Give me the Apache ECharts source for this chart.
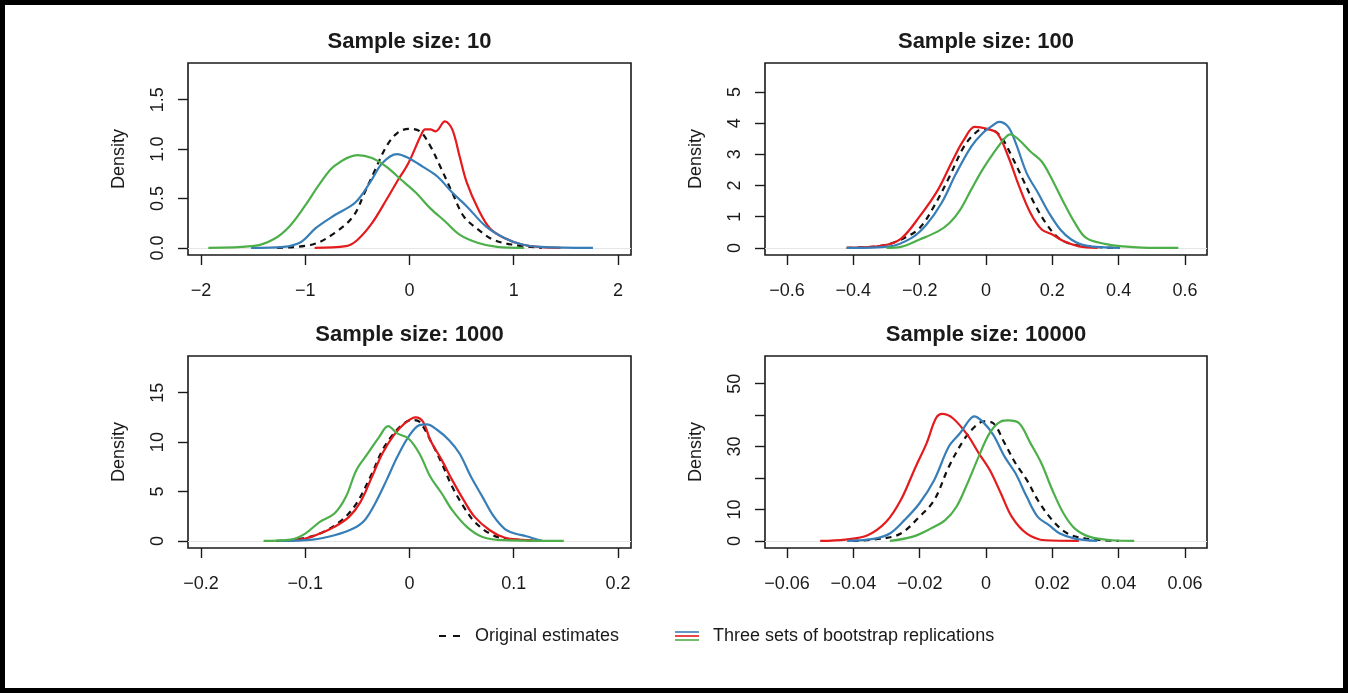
<!DOCTYPE html>
<html><head><meta charset="utf-8">
<script src="https://cdn.jsdelivr.net/npm/echarts@6/dist/echarts.min.js"></script>
<style>html,body{margin:0;padding:0;background:#fff}#c{width:1348px;height:693px}</style>
</head><body><div id="c"></div>
<script>
// ---------- data ----------
const panelTitles = ['Sample size: 10', 'Sample size: 100', 'Sample size: 1000', 'Sample size: 10000'];
const legendLabels = ['Original estimates', 'Three sets of bootstrap replications'];

const xTicks10 = [-2, -1, 0, 1, 2];
const xTicks100 = [-0.6, -0.4, -0.2, 0, 0.2, 0.4, 0.6];
const xTicks1000 = [-0.2, -0.1, 0, 0.1, 0.2];
const xTicks10000 = [-0.06, -0.04, -0.02, 0, 0.02, 0.04, 0.06];
const yTicks10 = [0, 0.5, 1, 1.5];
const yTicks100 = [0, 1, 2, 3, 4, 5];
const yTicks1000 = [0, 5, 10, 15];
const yTicks10000 = [0, 10, 20, 30, 40, 50];
const yLabels10000 = [0, 10, 30, 50];

const original10 = [[-1.27,0],[-0.93,0.034],[-0.72,0.15],[-0.54,0.32],[-0.43,0.56],[-0.33,0.79],[-0.22,1.03],[-0.12,1.16],[-0.01,1.205],[0.1,1.18],[0.2,1.03],[0.31,0.79],[0.41,0.56],[0.52,0.32],[0.66,0.185],[0.8,0.084],[0.98,0.034],[1.27,0]];
const red10 = [[-0.91,0],[-0.61,0.017],[-0.5,0.08],[-0.36,0.25],[-0.22,0.49],[-0.12,0.67],[-0.01,0.86],[0.11,1.14],[0.15,1.2],[0.2,1.2],[0.25,1.18],[0.34,1.28],[0.41,1.2],[0.48,0.93],[0.55,0.66],[0.66,0.39],[0.77,0.2],[0.91,0.1],[1.08,0.034],[1.26,0.007],[1.45,0]];
const blue10 = [[-1.52,0],[-1.21,0.01],[-1.04,0.06],[-0.9,0.2],[-0.72,0.33],[-0.52,0.46],[-0.38,0.66],[-0.26,0.86],[-0.12,0.95],[-0.01,0.91],[0.13,0.82],[0.27,0.72],[0.41,0.56],[0.55,0.42],[0.73,0.22],[0.91,0.1],[1.08,0.034],[1.26,0.01],[1.76,0]];
const green10 = [[-1.93,0],[-1.49,0.02],[-1.3,0.09],[-1.15,0.22],[-1.0,0.43],[-0.86,0.65],[-0.72,0.83],[-0.5,0.94],[-0.36,0.91],[-0.22,0.82],[-0.08,0.69],[0.06,0.56],[0.2,0.4],[0.34,0.27],[0.48,0.135],[0.66,0.05],[0.84,0.01],[1.1,0]];

const original100 = [[-0.42,0],[-0.313,0.07],[-0.246,0.32],[-0.2,0.64],[-0.157,1.33],[-0.11,2.29],[-0.067,3.24],[-0.034,3.67],[-0.011,3.81],[0.011,3.81],[0.045,3.56],[0.078,2.93],[0.112,2.18],[0.145,1.44],[0.18,0.8],[0.213,0.37],[0.246,0.16],[0.302,0.05],[0.403,0]];
const red100 = [[-0.42,0],[-0.313,0.07],[-0.257,0.29],[-0.2,1.01],[-0.145,1.86],[-0.1,2.82],[-0.067,3.46],[-0.034,3.88],[0,3.83],[0.034,3.67],[0.067,2.93],[0.1,1.97],[0.134,1.12],[0.168,0.59],[0.2,0.43],[0.235,0.21],[0.28,0.05],[0.336,0]];
const blue100 = [[-0.42,0],[-0.29,0.05],[-0.224,0.32],[-0.18,0.74],[-0.134,1.44],[-0.09,2.39],[-0.045,3.24],[-0.011,3.67],[0.022,3.94],[0.039,4.04],[0.067,3.88],[0.09,3.35],[0.123,2.39],[0.157,1.76],[0.19,1.12],[0.224,0.59],[0.257,0.27],[0.302,0.07],[0.403,0]];
const green100 = [[-0.3,0],[-0.257,0.03],[-0.2,0.27],[-0.145,0.53],[-0.11,0.8],[-0.078,1.22],[-0.045,1.86],[-0.011,2.5],[0.022,3.03],[0.056,3.51],[0.073,3.64],[0.1,3.46],[0.134,3.09],[0.168,2.77],[0.2,2.18],[0.235,1.44],[0.268,0.8],[0.302,0.32],[0.358,0.13],[0.414,0.05],[0.47,0.01],[0.58,0]];

const original1000 = [[-0.128,0],[-0.107,0.17],[-0.086,0.74],[-0.065,2.09],[-0.051,3.78],[-0.036,6.82],[-0.026,9.19],[-0.015,10.88],[-0.0046,11.96],[0.0025,12.23],[0.0095,12.06],[0.02,10.2],[0.031,7.84],[0.041,5.47],[0.052,3.45],[0.0625,1.93],[0.077,0.74],[0.091,0.24],[0.126,0]];
const red1000 = [[-0.121,0],[-0.1,0.24],[-0.086,0.74],[-0.072,1.42],[-0.058,2.43],[-0.047,3.95],[-0.036,6.49],[-0.026,8.85],[-0.015,10.71],[-0.0046,11.89],[0.006,12.5],[0.013,12.06],[0.02,10.2],[0.031,8.18],[0.041,6.15],[0.052,4.12],[0.0625,2.43],[0.077,1.08],[0.091,0.34],[0.108,0.1],[0.126,0]];
const blue1000 = [[-0.125,0],[-0.093,0.13],[-0.072,0.57],[-0.054,1.25],[-0.043,2.09],[-0.033,3.78],[-0.022,6.15],[-0.0117,8.51],[-0.001,10.54],[0.0095,11.72],[0.0166,11.79],[0.027,11.2],[0.038,10.2],[0.048,8.85],[0.059,6.49],[0.07,4.46],[0.08,2.6],[0.091,1.25],[0.101,0.74],[0.112,0.47],[0.127,0]];
const green1000 = [[-0.14,0],[-0.114,0.13],[-0.1,0.74],[-0.086,1.93],[-0.072,2.77],[-0.061,4.46],[-0.051,7.16],[-0.04,8.85],[-0.029,10.54],[-0.0205,11.62],[-0.0117,10.88],[-0.001,10.37],[0.0095,8.85],[0.02,6.49],[0.031,4.8],[0.041,3.11],[0.055,1.42],[0.07,0.4],[0.091,0.07],[0.148,0]];

const original10000 = [[-0.0402,0],[-0.0313,0.74],[-0.0257,2.34],[-0.0201,7.66],[-0.0156,13.0],[-0.0112,23.6],[-0.0067,32.1],[-0.0033,36.4],[-0.0006,38.0],[0.0022,37.4],[0.0056,31.1],[0.0089,24.7],[0.0123,19.4],[0.0156,13.0],[0.02,6.6],[0.0246,2.34],[0.0301,0.74],[0.04,0]];
const red10000 = [[-0.05,0],[-0.0424,0.43],[-0.0357,1.8],[-0.0301,6.06],[-0.0257,12.98],[-0.0212,23.6],[-0.0179,31.1],[-0.0151,39.0],[-0.0132,40.4],[-0.01,39.0],[-0.0056,33.7],[-0.0022,27.9],[0.0011,22.6],[0.0045,15.1],[0.0078,7.66],[0.0123,2.34],[0.0179,0.21],[0.028,0]];
const blue10000 = [[-0.0419,0],[-0.0335,0.74],[-0.029,2.34],[-0.0246,6.6],[-0.0201,11.9],[-0.0156,19.4],[-0.0112,30.0],[-0.0078,34.3],[-0.005,38.5],[-0.0036,39.6],[-0.0011,38.0],[0.0022,33.7],[0.0056,26.8],[0.0089,21.5],[0.0123,14.0],[0.0156,7.66],[0.019,5.0],[0.0223,2.34],[0.0268,0.74],[0.0335,0]];
const green10000 = [[-0.029,0],[-0.0223,1.28],[-0.0167,3.9],[-0.0123,6.6],[-0.0089,10.85],[-0.0056,18.3],[-0.0022,26.8],[0.0011,34.3],[0.0045,38.0],[0.0067,38.3],[0.01,37.4],[0.0134,31.1],[0.0167,24.7],[0.02,16.2],[0.0234,8.7],[0.0268,3.9],[0.0313,1.28],[0.038,0.21],[0.0447,0]];

// ---------- layout / style ----------
const FONT = '"Liberation Sans", Arial, Helvetica, sans-serif';
const INK = '#1a1a1a';
const COLORS = { red: '#E41A1C', blue: '#377EB8', green: '#4DAF4A', black: '#111' };

const panels = [
  { grid: { left: 188, top: 63, width: 443, height: 192 }, xr: [-2.125, 2.125], yr: [-0.072, 1.872],
    xt: xTicks10, yt: yTicks10, yl: yTicks10, yfmt: v => v.toFixed(1),
    curves: [original10, red10, blue10, green10] },
  { grid: { left: 765, top: 63, width: 442, height: 192 }, xr: [-0.6665, 0.6665], yr: [-0.228, 5.928],
    xt: xTicks100, yt: yTicks100, yl: yTicks100, yfmt: v => String(v),
    curves: [original100, red100, blue100, green100] },
  { grid: { left: 188, top: 356, width: 443, height: 192 }, xr: [-0.2125, 0.2125], yr: [-0.72, 18.72],
    xt: xTicks1000, yt: yTicks1000, yl: yTicks1000, yfmt: v => String(v),
    curves: [original1000, red1000, blue1000, green1000] },
  { grid: { left: 765, top: 356, width: 442, height: 192 }, xr: [-0.06665, 0.06665], yr: [-2.26, 58.8],
    xt: xTicks10000, yt: yTicks10000, yl: yLabels10000, yfmt: v => String(v),
    curves: [original10000, red10000, blue10000, green10000] }
];

const fmtX = v => String(+(+v).toFixed(4)).replace('-', '\u2212');

const grids = [], xAxes = [], yAxes = [], series = [], graphics = [];
panels.forEach((p, i) => {
  grids.push(Object.assign({ show: true, borderColor: INK, borderWidth: 1.6, backgroundColor: '#fff' }, p.grid));
  xAxes.push({
    type: 'value', gridIndex: i, min: p.xr[0], max: p.xr[1],
    axisLine: { show: false, onZero: false },
    axisTick: { show: true, customValues: p.xt, length: 10, inside: false, lineStyle: { color: INK, width: 1.4 } },
    axisLabel: { customValues: p.xt, margin: 27, fontSize: 18, color: INK, fontFamily: FONT, formatter: fmtX },
    splitLine: { show: false }
  });
  yAxes.push({
    type: 'value', gridIndex: i, min: p.yr[0], max: p.yr[1],
    name: 'Density', nameLocation: 'middle', nameRotate: 90, nameGap: 60,
    nameTextStyle: { fontSize: 18, color: INK, fontFamily: FONT },
    axisLine: { show: false, onZero: false },
    axisTick: { show: true, customValues: p.yt, length: 10, inside: false, lineStyle: { color: INK, width: 1.4 } },
    axisLabel: { customValues: p.yl, rotate: 90, margin: 21, fontSize: 18, color: INK, fontFamily: FONT, formatter: p.yfmt },
    splitLine: { show: false }
  });
  const cols = [COLORS.black, COLORS.red, COLORS.blue, COLORS.green];
  p.curves.forEach((c, k) => {
    const s = {
      type: 'line', xAxisIndex: i, yAxisIndex: i, data: c, showSymbol: false, smooth: 0.35,
      animation: false, silent: true, z: 3 + k,
      lineStyle: { color: cols[k], width: 2.2, type: k === 0 ? [6, 5] : 'solid' },
      itemStyle: { color: cols[k] }
    };
    if (k === 0) {
      s.markLine = { silent: true, symbol: 'none', animation: false, label: { show: false },
        lineStyle: { color: '#e6e6e6', width: 1, type: 'solid' }, data: [{ yAxis: 0 }], z: 1 };
    }
    series.push(s);
  });
  graphics.push({
    type: 'text', x: p.grid.left + p.grid.width / 2, y: p.grid.top - 21,
    style: { text: panelTitles[i], font: 'bold 22px ' + FONT, fill: INK, textAlign: 'center', textVerticalAlign: 'middle' }
  });
});

// legend (drawn as graphics)
const legY = 636;
graphics.push(
  { type: 'line', shape: { x1: 439, y1: legY, x2: 463, y2: legY }, style: { stroke: COLORS.black, lineWidth: 2, lineDash: [7, 7] } },
  { type: 'text', x: 475, y: legY, style: { text: legendLabels[0], font: '18px ' + FONT, fill: INK, textVerticalAlign: 'middle' } },
  { type: 'line', shape: { x1: 675, y1: legY - 4, x2: 699, y2: legY - 4 }, style: { stroke: COLORS.blue, lineWidth: 1.6 } },
  { type: 'line', shape: { x1: 675, y1: legY, x2: 699, y2: legY }, style: { stroke: COLORS.red, lineWidth: 1.6 } },
  { type: 'line', shape: { x1: 675, y1: legY + 4, x2: 699, y2: legY + 4 }, style: { stroke: COLORS.green, lineWidth: 1.6 } },
  { type: 'text', x: 713, y: legY, style: { text: legendLabels[1], font: '18px ' + FONT, fill: INK, textVerticalAlign: 'middle' } },
  { type: 'rect', shape: { x: 2.5, y: 2.5, width: 1343, height: 688 }, style: { fill: 'none', stroke: '#000', lineWidth: 5 } }
);

const chart = echarts.init(document.getElementById('c'), null, { renderer: 'canvas' });
chart.setOption({
  animation: false,
  backgroundColor: '#fff',
  grid: grids, xAxis: xAxes, yAxis: yAxes, series: series,
  graphic: graphics
});
</script></body></html>
